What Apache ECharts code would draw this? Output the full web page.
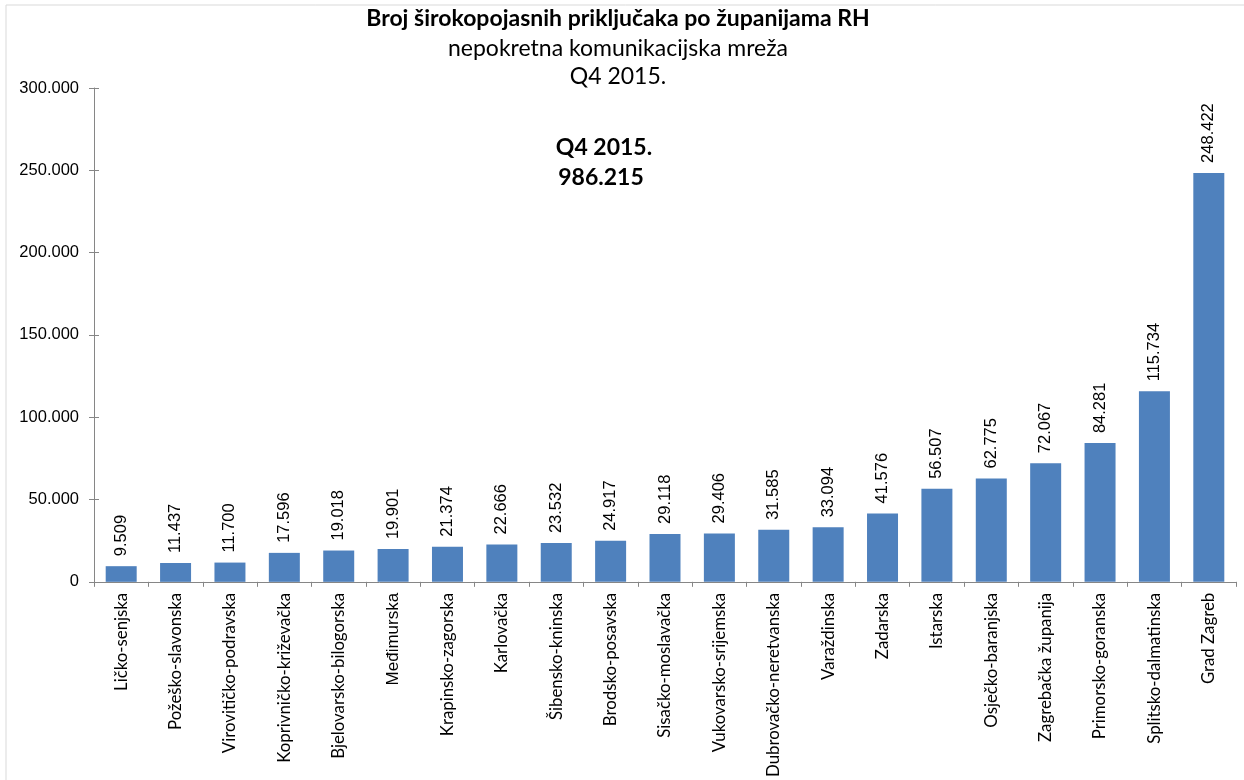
<!DOCTYPE html>
<html>
<head>
<meta charset="utf-8">
<script src="https://cdn.jsdelivr.net/npm/echarts@6/dist/echarts.min.js"></script>
<style>html,body{margin:0;padding:0;background:#fff}#c{width:1244px;height:780px}</style>
</head>
<body>
<div id="c"></div>
<script>
const categories = ["Ličko-senjska","Požeško-slavonska","Virovitičko-podravska","Koprivničko-križevačka","Bjelovarsko-bilogorska","Međimurska","Krapinsko-zagorska","Karlovačka","Šibensko-kninska","Brodsko-posavska","Sisačko-moslavačka","Vukovarsko-srijemska","Dubrovačko-neretvanska","Varaždinska","Zadarska","Istarska","Osječko-baranjska","Zagrebačka županija","Primorsko-goranska","Splitsko-dalmatinska","Grad Zagreb"];
const values = [9509,11437,11700,17596,19018,19901,21374,22666,23532,24917,29118,29406,31585,33094,41576,56507,62775,72067,84281,115734,248422];
const titleLines = ["Broj širokopojasnih priključaka po županijama RH","nepokretna komunikacijska mreža","Q4 2015."];
const noteLines = ["Q4 2015.","986.215"];
const yMin = 0, yMax = 300000, yStep = 50000;

function fmt(n){ return String(n).replace(/\B(?=(\d{3})+(?!\d))/g, '.'); }

const chart = echarts.init(document.getElementById('c'), null, {renderer:'canvas'});
chart.setOption({
  animation:false,
  backgroundColor:'#fff',
  grid:{left:94, right:8, top:88, bottom:197, containLabel:false},
  graphic:[
    {type:'rect', shape:{x:6,y:5,width:1260,height:800}, style:{fill:'none', stroke:'#d9d9d9', lineWidth:1}, silent:true},
    {type:'text', x:618, y:19, style:{text:titleLines[0], font:'bold 23px Lato', fill:'#000', align:'center', verticalAlign:'middle'}},
    {type:'text', x:618, y:49, style:{text:titleLines[1], font:'23px Lato', fill:'#000', align:'center', verticalAlign:'middle'}},
    {type:'text', x:618, y:77, style:{text:titleLines[2], font:'23px Lato', fill:'#000', align:'center', verticalAlign:'middle'}},
    {type:'text', x:604, y:148, style:{text:noteLines[0], font:'bold 23px Lato', fill:'#000', align:'center', verticalAlign:'middle'}},
    {type:'text', x:601, y:178, style:{text:noteLines[1], font:'bold 23px Lato', fill:'#000', align:'center', verticalAlign:'middle'}}
  ],
  xAxis:{
    type:'category', data:categories,
    axisLine:{lineStyle:{color:'#868686', width:1}},
    axisTick:{show:true, length:5, lineStyle:{color:'#868686'}},
    axisLabel:{
      rotate:90, interval:0, margin:11, color:'#000', fontFamily:'Lato', fontSize:16.8,
      formatter:function(v){ return v==='Međimurska' ? '{a|'+v+'}' : v; },
      rich:{a:{fontFamily:'Liberation Sans', fontSize:17, color:'#000'}}
    },
    splitLine:{show:false}
  },
  yAxis:[{
    type:'value', min:yMin, max:yMax, interval:yStep,
    axisLine:{show:true, lineStyle:{color:'#868686', width:1}},
    axisTick:{show:true, length:5, lineStyle:{color:'#868686'}},
    axisLabel:{color:'#000', fontFamily:'Liberation Sans', fontSize:16.5, margin:15, formatter:fmt},
    splitLine:{show:false}
  },{
    type:'value', min:yMin, max:yMax, interval:yStep, position:'left',
    axisLine:{show:false},
    axisTick:{show:true, inside:true, length:5, lineStyle:{color:'#868686'}},
    axisLabel:{show:false}, splitLine:{show:false}
  }],
  series:[{
    type:'bar', data:values, barCategoryGap:'43%',
    itemStyle:{color:'#4F81BD'},
    label:{show:true, position:'top', rotate:90, align:'left', verticalAlign:'middle', distance:10,
      color:'#000', fontFamily:'Liberation Sans', fontSize:16.5,
      formatter:function(p){ return fmt(p.value); }}
  }]
});
</script>
</body>
</html>
